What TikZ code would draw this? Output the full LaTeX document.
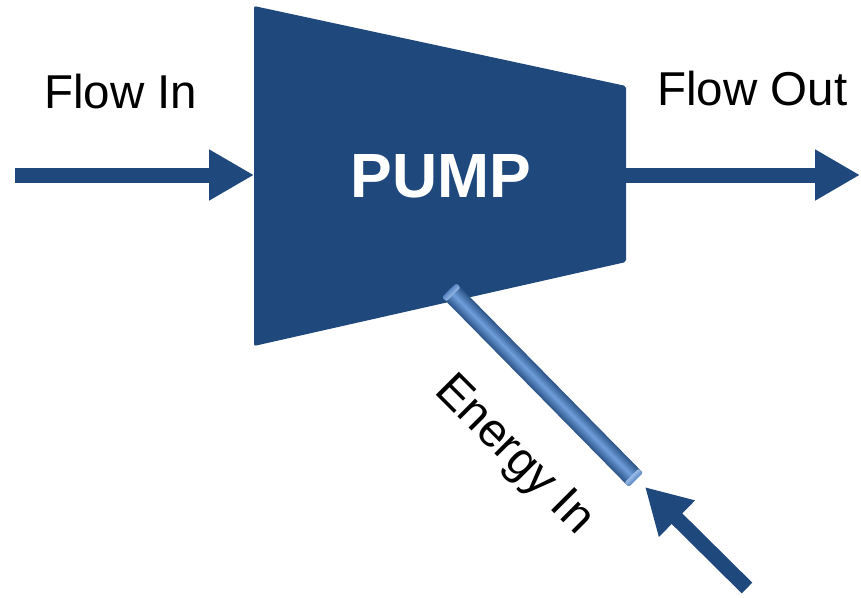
\documentclass[tikz,border=0pt]{standalone}
\usepackage{fontspec}
\setmainfont{Liberation Sans}
\usetikzlibrary{arrows.meta}
\definecolor{pumpblue}{HTML}{1F497D}
\definecolor{shaftmid}{HTML}{6F9EDB}
\definecolor{shaftedge}{HTML}{2B5487}
\definecolor{shaftcap}{HTML}{5A88C4}
\begin{document}
\begin{tikzpicture}[x=1pt,y=-1pt,
  bigarrow/.style={line width=15pt, pumpblue, -{Triangle[width=48pt,length=45pt]}},
  label/.style={font=\fontsize{47.5}{52}\selectfont, text=black, inner sep=0pt}]
\useasboundingbox (0,0) rectangle (861,597);
% pump body
\fill[pumpblue, rounded corners=2pt] (254,6) -- (626,86) -- (626,262) -- (254,346) -- cycle;
\node[font=\fontsize{62.5}{66}\selectfont\bfseries, text=white, inner sep=0pt] (pump) at (441,176) {PUMP};
% edge points
\coordinate (pumpin) at (254,175);
\coordinate (pumpout) at (620,175);
\coordinate (inStart) at (15,175);
\coordinate (outEnd) at (860,175);
\draw[bigarrow] (inStart) -- (pumpin);
\draw[bigarrow] (pumpout) -- (outEnd);
% shaft (cylinder)
\coordinate (shaftc) at (542.5,385);
\begin{scope}[transform canvas={shift={(shaftc)}, rotate=-45.45}]
  \shade[top color=shaftedge, bottom color=shaftedge, middle color=shaftmid, rounded corners=2pt]
    (-133,-10) rectangle (133,10);
  \shade[left color=shaftcap, right color=shaftmid!70!white, rounded corners=2pt]
    (-133,-10) rectangle (-127,10);
  \shade[left color=shaftmid!70!white, right color=shaftcap, rounded corners=2pt]
    (127,-10) rectangle (133,10);
\end{scope}
% energy arrow
\coordinate (eStart) at (747,588);
\coordinate (eTip) at (645,487);
\draw[bigarrow] (eStart) -- (eTip);
% labels
\node[label, anchor=base west] (flowin) at (44,108) {Flow In};
\node[label, anchor=base west] (flowout) at (657,105) {Flow Out};
\node[label, rotate=-45] (energy) at (513,456) {Energy In};
\end{tikzpicture}
\end{document}
